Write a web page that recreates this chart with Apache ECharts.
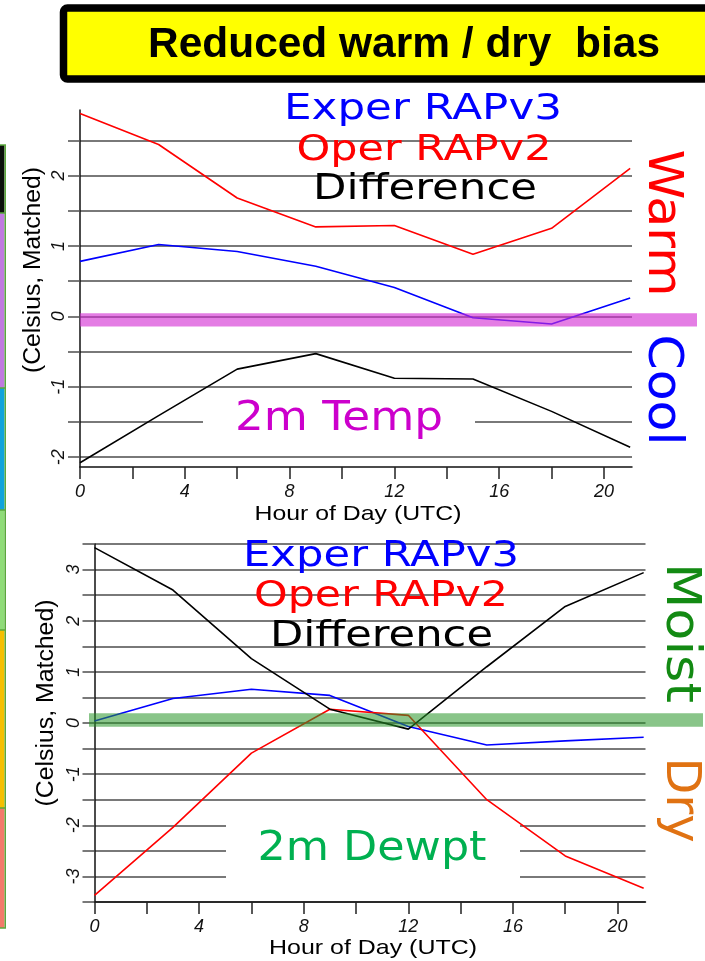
<!DOCTYPE html>
<html><head><meta charset="utf-8">
<script src="https://cdn.jsdelivr.net/npm/echarts@6/dist/echarts.min.js"></script>
<style>html,body{margin:0;padding:0;background:#fff}#c{width:705px;height:961px}</style>
</head><body><div id="c"></div>
<script>
// ---- data ----
const hours = [0, 3, 6, 9, 12, 15, 18, 21];
const tempExper = [0.78, 1.02, 0.92, 0.71, 0.41, -0.02, -0.11, 0.26];
const tempOper  = [2.88, 2.44, 1.68, 1.27, 1.29, 0.88, 1.25, 2.10];
const tempDiff  = [-2.08, -1.41, -0.75, -0.53, -0.88, -0.89, -1.35, -1.86];
const dewExper  = [0.04, 0.48, 0.66, 0.54, -0.07, -0.43, -0.35, -0.28];
const dewOper   = [-3.37, -2.04, -0.59, 0.27, 0.15, -1.50, -2.60, -3.23];
const dewDiff   = [3.43, 2.60, 1.26, 0.27, -0.12, 1.10, 2.28, 2.94];
const xTickValues  = [0, 2, 4, 6, 8, 10, 12, 14, 16, 18, 20];
const xLabelValues = [0, 4, 8, 12, 16, 20];
const tempYTicks  = [-2, -1.5, -1, -0.5, 0, 0.5, 1, 1.5, 2, 2.5];
const tempYLabels = [-2, -1, 0, 1, 2];
const dewYTicks   = [-3.5, -3, -2.5, -2, -1.5, -1, -0.5, 0, 0.5, 1, 1.5, 2, 2.5, 3, 3.5];
const dewYLabels  = [-3, -2, -1, 0, 1, 2, 3];
const tempRange = [-2.14, 2.93];
const dewRange  = [-3.5, 3.5];
const xRange    = [0, 21.07];
const tempBand  = [-0.145, 0.045];
const dewBand   = [-0.072, 0.19];

const pairs = (ys) => hours.map((h, i) => [h, ys[i]]);

const chart = echarts.init(document.getElementById('c'), null, {renderer: 'canvas'});

const GRID = '#4d4d4d';
function xAxisOpt(gi) {
  return {
    type: 'value', gridIndex: gi, min: xRange[0], max: xRange[1],
    axisLine: {show: true, onZero: false, lineStyle: {color: '#111', width: 1.5}},
    axisTick: {show: true, customValues: xTickValues, length: 12, lineStyle: {color: '#222', width: 1.5}},
    axisLabel: {show: true, customValues: xLabelValues, margin: 16, color: '#111',
      fontFamily: 'Liberation Sans', fontStyle: 'italic', fontSize: 18},
    splitLine: {show: false}
  };
}
function yAxisOpt(gi, range, ticks, labels) {
  return {
    type: 'value', gridIndex: gi, min: range[0], max: range[1],
    axisLine: {show: true, lineStyle: {color: '#111', width: 1.5}},
    axisTick: {show: true, customValues: ticks, length: 12, lineStyle: {color: GRID, width: 1.5}},
    axisLabel: {show: true, customValues: labels, rotate: 90, margin: 12, color: '#111',
      fontFamily: 'Liberation Sans', fontStyle: 'italic', fontSize: 18},
    splitLine: {show: true, lineStyle: {color: GRID, width: 1.5}}
  };
}
function line(name, data, color, gi) {
  return {type: 'line', name, data: pairs(data), xAxisIndex: gi, yAxisIndex: gi,
    symbol: 'none', lineStyle: {color, width: 1.6}, itemStyle: {color}, z: 5, animation: false};
}

chart.setOption({
  animation: false,
  backgroundColor: '#fff',
  grid: [
    {left: 80, top: 110, width: 552, height: 357},
    {left: 94.5, top: 544, width: 551, height: 358}
  ],
  xAxis: [xAxisOpt(0), xAxisOpt(1)],
  yAxis: [yAxisOpt(0, tempRange, tempYTicks, tempYLabels), yAxisOpt(1, dewRange, dewYTicks, dewYLabels)],
  series: [
    line('Exper RAPv3', tempExper, '#0000ff', 0),
    line('Oper RAPv2', tempOper, '#ff0000', 0),
    line('Difference', tempDiff, '#000000', 0),
    line('Exper RAPv3', dewExper, '#0000ff', 1),
    line('Oper RAPv2', dewOper, '#ff0000', 1),
    line('Difference', dewDiff, '#000000', 1)
  ]
});

// ---- annotations ----
const mctx = document.createElement('canvas').getContext('2d');
function fitScale(text, font, w) { mctx.font = font; return w / mctx.measureText(text).width; }
function txt(t, color, x, y, w, size, opts) {
  opts = opts || {};
  const fam = opts.family || '"DejaVu Sans"';
  const font = (opts.weight ? opts.weight + ' ' : '') + size + 'px ' + fam;
  return {type: 'text', x, y, rotation: opts.rot || 0, scaleX: fitScale(t, font, w), z: opts.z || 20,
    style: {text: t, fill: color, font, align: 'center', verticalAlign: 'middle'}};
}
const CW = -Math.PI / 2, CCW = Math.PI / 2;

const py = (axisIdx, v) => chart.convertToPixel({yAxisIndex: axisIdx}, v);
const tb = [py(0, tempBand[1]), py(0, tempBand[0])];
const db = [py(1, dewBand[1]), py(1, dewBand[0])];

const strip = [[145, 213, '#0a0f0a'], [213, 388, '#c07ae0'], [388, 510, '#0fa3dc'],
               [510, 630, '#8fdc78'], [630, 808, '#f5bf00'], [808, 928, '#f27a6a']];

const elements = [];
strip.forEach(s => elements.push({type: 'rect', z: 1,
  shape: {x: 0, y: s[0], width: 4.5, height: s[1] - s[0]},
  style: {fill: s[2]}}));
strip.forEach(s => elements.push({type: 'rect', z: 2,
  shape: {x: 4.5, y: s[0], width: 1.5, height: s[1] - s[0]},
  style: {fill: '#5aa83c'}}));
strip.forEach(s => elements.push({type: 'rect', z: 2,
  shape: {x: 0, y: s[0] - 0.75, width: 6, height: 1.5},
  style: {fill: '#5aa83c'}}));
elements.push({type: 'rect', z: 2, shape: {x: 0, y: 927.25, width: 6, height: 1.5}, style: {fill: '#5aa83c'}});

// title box
elements.push({type: 'rect', z: 5, shape: {x: 63.5, y: 8, width: 700, height: 71, r: 4},
  style: {fill: '#ffff00', stroke: '#000', lineWidth: 7.5}});
elements.push(txt('Reduced warm / dry  bias', '#000', 404, 45, 512, 42,
  {family: '"Liberation Sans"', weight: 'bold', z: 6}));

// bands (drawn over the lines, semi-transparent)
elements.push({type: 'rect', z: 10, shape: {x: 80, y: tb[0], width: 617, height: tb[1] - tb[0]},
  style: {fill: 'rgba(212,45,212,0.62)'}});
elements.push({type: 'rect', z: 10, shape: {x: 89, y: db[0], width: 614, height: db[1] - db[0]},
  style: {fill: 'rgba(40,150,40,0.55)'}});

// white masks behind the labels (above gridlines, below data lines)
elements.push({type: 'rect', z: 0, shape: {x: 203, y: 392, width: 272, height: 60}, style: {fill: '#fff'}});
elements.push({type: 'rect', z: 0, shape: {x: 226, y: 812, width: 294, height: 74}, style: {fill: '#fff'}});

// top chart texts
elements.push(txt('Exper RAPv3', '#0000ff', 423, 110, 278, 36));
elements.push(txt('Oper RAPv2', '#ff0000', 424, 150.5, 255, 36));
elements.push(txt('Difference', '#000000', 425, 189.5, 224, 36));
elements.push(txt('Warm', '#ff0000', 661, 223, 147, 48, {rot: CW}));
elements.push(txt('Cool', '#0000ff', 661, 390, 111, 48, {rot: CW}));
elements.push(txt('2m Temp', '#cc00cc', 339, 419.5, 208, 40));
// bottom chart texts
elements.push(txt('Exper RAPv3', '#0000ff', 381, 557, 276, 36));
elements.push(txt('Oper RAPv2', '#ff0000', 381, 597, 254, 36));
elements.push(txt('Difference', '#000000', 381.5, 637, 223, 36));
elements.push(txt('Moist', '#138a13', 679, 633, 140, 48, {rot: CW}));
elements.push(txt('Dry', '#e07212', 679, 800, 85, 48, {rot: CW}));
elements.push(txt('2m Dewpt', '#00b050', 372, 849.5, 229, 40));
// axis titles
elements.push(txt('Hour of Day (UTC)', '#000', 358, 514, 207, 21, {family: '"Liberation Sans"'}));
elements.push(txt('Hour of Day (UTC)', '#000', 373, 948, 208, 21, {family: '"Liberation Sans"'}));
elements.push(txt('(Celsius, Matched)', '#000', 34, 270, 206, 23, {family: '"Liberation Sans"', rot: CCW}));
elements.push(txt('(Celsius, Matched)', '#000', 47, 703, 207, 23, {family: '"Liberation Sans"', rot: CCW}));

chart.setOption({graphic: {elements}});
</script>
</body></html>
